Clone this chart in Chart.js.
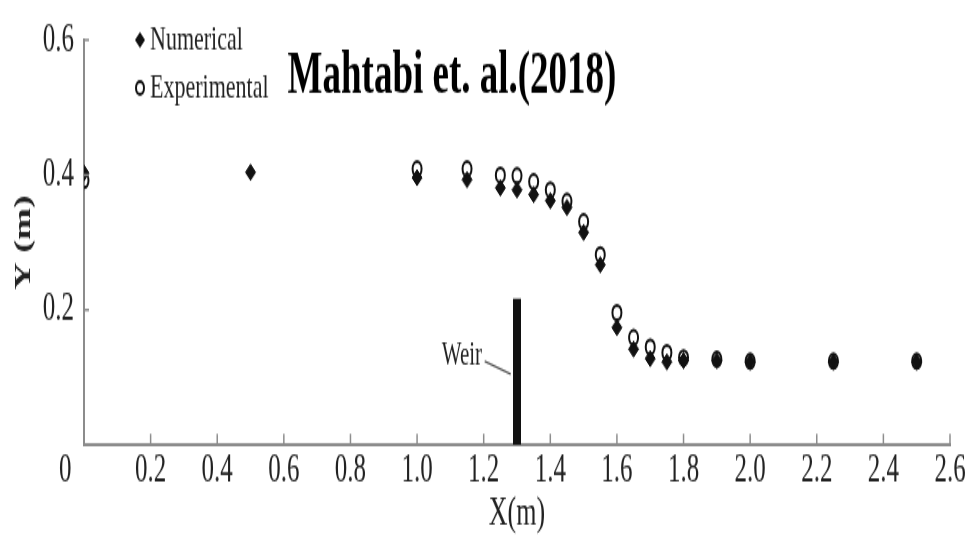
<!DOCTYPE html>
<html lang="en">
<head>
  <meta charset="UTF-8">
  <title>Mahtabi et. al.(2018)</title>
  <script src="https://cdn.jsdelivr.net/npm/chart.js"></script>
  <style>
    body { margin: 0; background: #fff; }
    .page { width: 972px; height: 539px; position: relative; }
    /* the source figure is stretched vertically, so draw flat and stretch */
    .wrap {
      position: absolute;
      left: 0;
      top: 0;
      width: 972px;
      height: 337px;
      transform: scaleY(1.5994);
      transform-origin: 0 0;
    }
  </style>
</head>
<body>
  <div class="page"><div class="wrap"><canvas id="chart"></canvas></div></div>

  <script>
    // data
    const xNum = [0, 0.5, 1.0, 1.15, 1.25, 1.3, 1.35, 1.4, 1.45, 1.5, 1.55, 1.6, 1.65, 1.7, 1.75, 1.8, 1.9, 2.0, 2.25, 2.5];
    const yNum = [0.403, 0.404, 0.396, 0.393, 0.381, 0.378, 0.371, 0.362, 0.352, 0.315, 0.267, 0.174, 0.142, 0.128, 0.123, 0.125, 0.125, 0.123, 0.123, 0.123];
    const xExp = [0, 1.0, 1.15, 1.25, 1.3, 1.35, 1.4, 1.45, 1.5, 1.55, 1.6, 1.65, 1.7, 1.75, 1.8, 1.9, 2.0, 2.25, 2.5];
    const yExp = [0.392, 0.409, 0.409, 0.400, 0.399, 0.390, 0.378, 0.361, 0.331, 0.282, 0.196, 0.159, 0.145, 0.137, 0.129, 0.127, 0.124, 0.124, 0.124];
    const weirX = [1.3, 1.3];
    const weirY = [0, 0.217];
    const xTicks = [0, 0.2, 0.4, 0.6, 0.8, 1.0, 1.2, 1.4, 1.6, 1.8, 2.0, 2.2, 2.4, 2.6];
    const yTicks = [0, 0.2, 0.4, 0.6];

    const toPoints = (xs, ys) => xs.map((x, i) => ({ x: x, y: ys[i] }));
    const serif = "'Liberation Serif', 'DejaVu Serif', serif";
    const axisColor = '#8c8c8c';

    // inward tick marks, legend, title and weir label
    const extras = {
      id: 'extras',
      afterDraw(chart) {
        const ctx = chart.ctx;
        const xs = chart.scales.x, ys = chart.scales.y;
        const area = chart.chartArea;

        ctx.save();
        ctx.strokeStyle = axisColor;
        ctx.lineWidth = 1.5;
        xTicks.forEach(v => {
          if (v === 0) return;
          const px = xs.getPixelForValue(v);
          ctx.beginPath();
          ctx.moveTo(px, area.bottom);
          ctx.lineTo(px, area.bottom - 7);
          ctx.stroke();
        });
        yTicks.forEach(v => {
          if (v === 0) return;
          const py = ys.getPixelForValue(v);
          ctx.beginPath();
          ctx.moveTo(area.left, py);
          ctx.lineTo(area.left + 5, py);
          ctx.stroke();
        });

        // legend
        const num = chart.data.datasets[1], exp = chart.data.datasets[0];
        ctx.fillStyle = '#111';
        ctx.beginPath();
        ctx.moveTo(140, 20); ctx.lineTo(145, 25); ctx.lineTo(140, 30); ctx.lineTo(135, 25);
        ctx.closePath();
        ctx.fill();
        ctx.beginPath();
        ctx.arc(140, 55, 4, 0, Math.PI * 2);
        ctx.strokeStyle = '#111';
        ctx.lineWidth = 2;
        ctx.stroke();
        ctx.fillStyle = '#222';
        ctx.font = '22px ' + serif;
        ctx.textAlign = 'left';
        ctx.textBaseline = 'middle';
        ctx.fillText(num.label, 150, 25.5);
        ctx.fillText(exp.label, 150, 55);

        // title
        ctx.fillStyle = '#000';
        ctx.font = 'bold 37px ' + serif;
        ctx.textAlign = 'center';
        ctx.textBaseline = 'alphabetic';
        ctx.fillText('Mahtabi et. al.(2018)', 452, 58);

        // weir label with leader line
        ctx.fillStyle = '#222';
        ctx.font = '21px ' + serif;
        ctx.textAlign = 'right';
        ctx.textBaseline = 'middle';
        ctx.fillText('Weir', xs.getPixelForValue(1.195), ys.getPixelForValue(0.131));
        ctx.strokeStyle = '#555';
        ctx.lineWidth = 1.2;
        ctx.beginPath();
        ctx.moveTo(xs.getPixelForValue(1.203), ys.getPixelForValue(0.124));
        ctx.lineTo(xs.getPixelForValue(1.281), ys.getPixelForValue(0.105));
        ctx.stroke();
        ctx.restore();
      }
    };

    new Chart(document.getElementById('chart'), {
      type: 'scatter',
      data: {
        datasets: [
          {
            label: 'Experimental',
            data: toPoints(xExp, yExp),
            order: 0,
            pointStyle: 'circle',
            pointRadius: 4.5,
            pointBorderWidth: 2,
            borderColor: '#111',
            backgroundColor: 'rgba(0,0,0,0)'
          },
          {
            label: 'Numerical',
            data: toPoints(xNum, yNum),
            order: 1,
            pointStyle: 'rectRot',
            pointRadius: 5,
            pointBorderWidth: 1,
            borderColor: '#111',
            backgroundColor: '#111'
          },
          {
            label: 'Weir',
            data: toPoints(weirX, weirY),
            order: 2,
            showLine: true,
            pointRadius: 0,
            borderWidth: 8,
            borderCapStyle: 'butt',
            borderColor: '#111'
          }
        ]
      },
      options: {
        responsive: true,
        maintainAspectRatio: false,
        animation: false,
        layout: { padding: { left: 0, right: 22, top: 20.6, bottom: 0 } },
        plugins: {
          legend: { display: false },
          tooltip: { enabled: false }
        },
        scales: {
          x: {
            type: 'linear',
            min: 0,
            max: 2.6,
            afterFit: s => { s.height = 58.8; },
            afterBuildTicks: s => { s.ticks = xTicks.map(v => ({ value: v })); },
            grid: { drawOnChartArea: false, drawTicks: false },
            border: { color: axisColor, width: 2 },
            ticks: {
              autoSkip: false,
              maxRotation: 0,
              padding: 1,
              color: '#222',
              font: { family: serif, size: 25 },
              callback: v => v === 0 ? '0      ' : v.toFixed(1)
            },
            title: {
              display: true,
              text: 'X(m)',
              color: '#222',
              font: { family: serif, size: 26 },
              padding: { top: 0, bottom: 0 }
            }
          },
          y: {
            type: 'linear',
            min: 0,
            max: 0.6,
            afterFit: s => { s.width = 84; },
            afterBuildTicks: s => { s.ticks = yTicks.map(v => ({ value: v })); },
            grid: { drawOnChartArea: false, drawTicks: false },
            border: { color: axisColor, width: 2 },
            ticks: {
              padding: 10,
              color: '#222',
              font: { family: serif, size: 25 },
              callback: v => v === 0 ? '' : v.toFixed(1)
            },
            title: {
              display: true,
              text: 'Y (m)',
              color: '#222',
              font: { family: serif, size: 24, weight: 'bold' },
              padding: { top: 9, bottom: 0 }
            }
          }
        }
      },
      plugins: [extras]
    });
  </script>
</body>
</html>
